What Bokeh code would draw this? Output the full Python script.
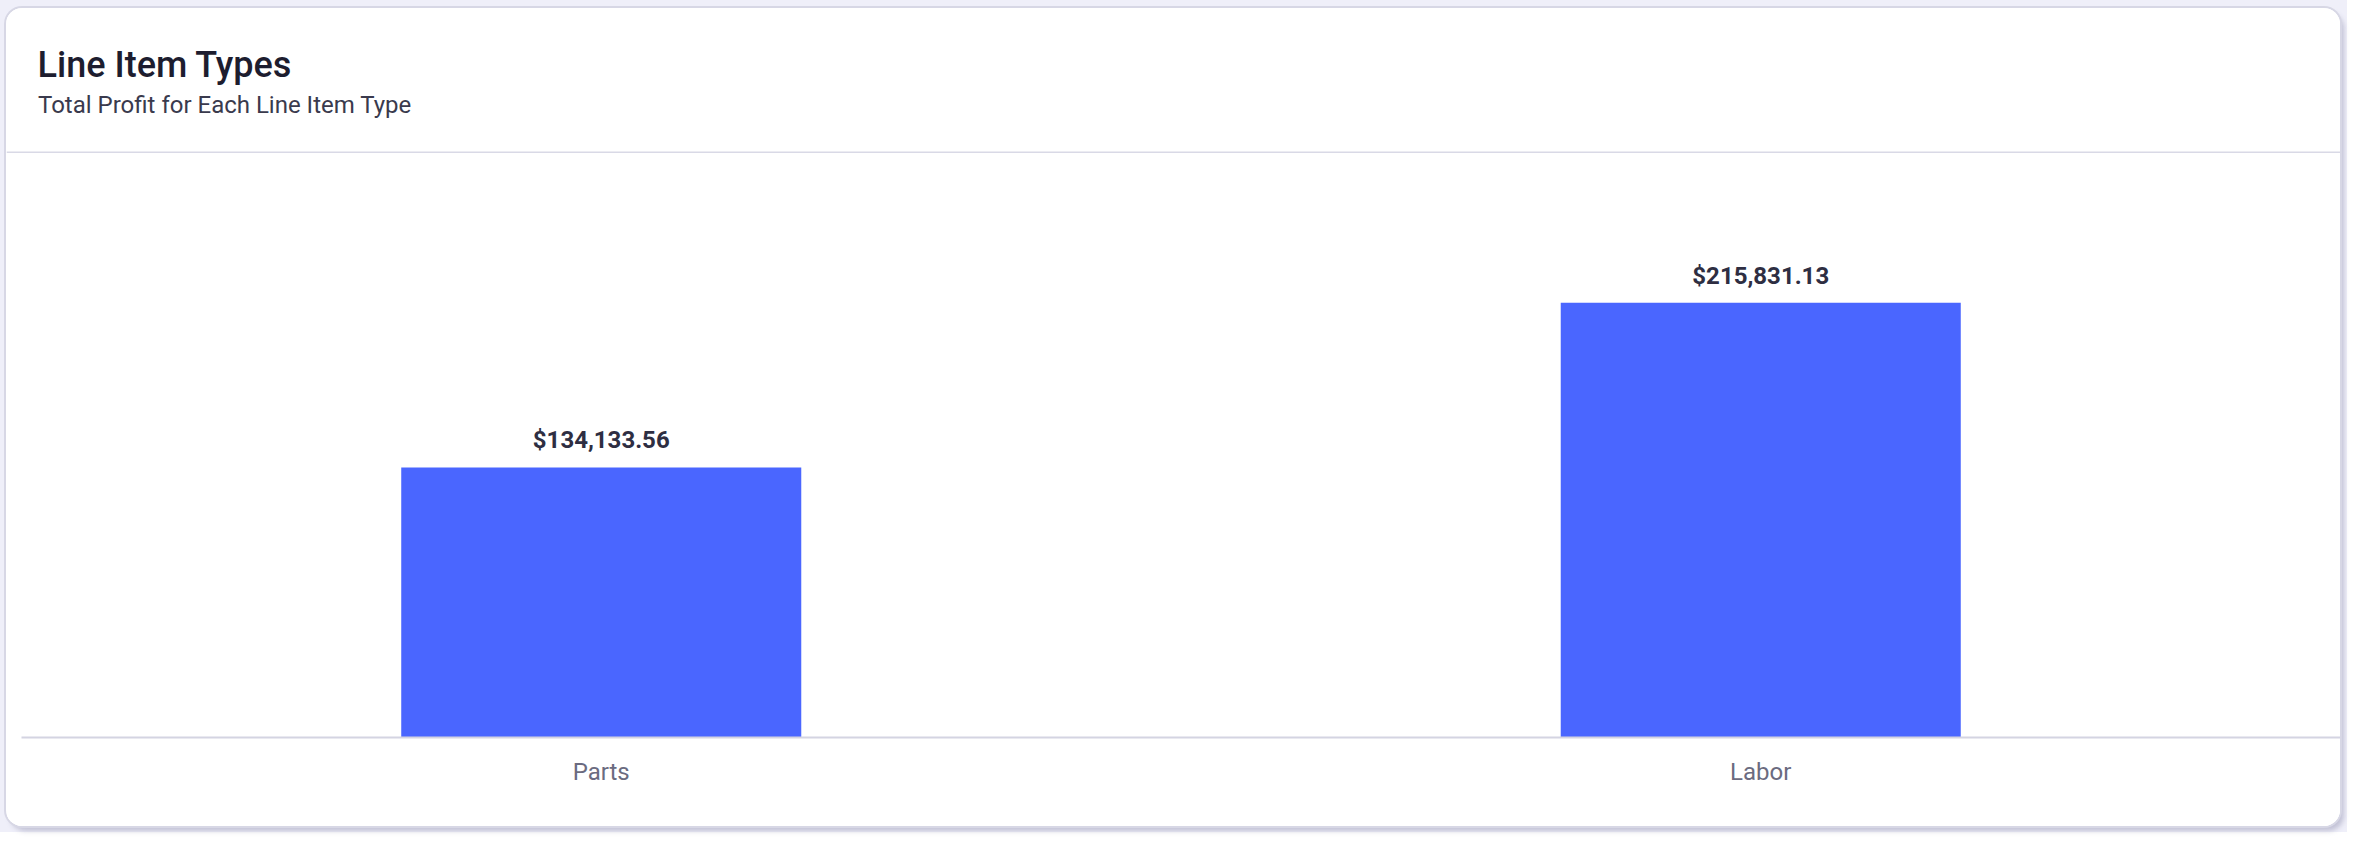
from bokeh.plotting import figure
from bokeh.models import ColumnDataSource, Label, Range1d
from bokeh.layouts import column
from bokeh.core.properties import value
from bokeh.embed import file_html
from bokeh.resources import INLINE

# ---- data ----
categories = ["Parts", "Labor"]
profit = [134133.56, 215831.13]
value_labels = [f"${v:,.2f}" for v in profit]
title_text = "Line Item Types"
subtitle_text = "Total Profit for Each Line Item Type"

source = ColumnDataSource(dict(cat=categories, profit=profit, label=value_labels))

CW = 2334          # card inner width
HH = 145           # header height (incl. divider)
CH = 673           # chart height

# ---- header (title, subtitle, divider) ----
header = figure(width=CW, height=HH, x_range=Range1d(0, CW), y_range=Range1d(0, HH),
                output_backend="svg", toolbar_location=None, title=None,
                x_axis_location=None, y_axis_location=None, min_border=0)
header.frame_align = False
header.outline_line_color = None
header.grid.visible = False
header.border_fill_color = "white"
header.background_fill_color = "white"
header.hspan(y=[1], line_color="#d9d9e6", line_width=2)
header.add_layout(Label(x=31, y=89, text=title_text, text_font="Roboto Medium",
                        text_font_size="36px", text_color="#1d1d2f",
                        text_baseline="alphabetic", text_align="left"))
header.add_layout(Label(x=31.5, y=49, text=subtitle_text, text_font="Roboto",
                        text_font_size="24px", text_color="#3a3a4d",
                        text_baseline="alphabetic", text_align="left"))

# ---- chart ----
p = figure(width=CW, height=CH, x_range=categories, y_range=Range1d(0, 289000),
           output_backend="svg", toolbar_location=None, title=None,
           y_axis_location=None, min_border_left=15, min_border_right=0,
           min_border_top=2, min_border_bottom=89)
p.frame_align = False
p.border_fill_color = "white"
p.background_fill_color = "white"
p.outline_line_color = None
p.xgrid.visible = False
p.ygrid.visible = False

p.vbar(x="cat", top="profit", width=0.345, source=source, fill_color="#4a66ff", line_color=None)
p.text(x="cat", y="profit", text="label", source=source, y_offset=-27,
       text_align="center", text_baseline="alphabetic", text_font=value("Roboto"),
       text_font_style="bold", text_font_size="24px", text_color="#2e2e42")

ax = p.xaxis[0]
ax.axis_line_color = "#d4d4e2"
ax.axis_line_width = 2
ax.major_tick_line_color = None
ax.minor_tick_line_color = None
ax.major_tick_out = 0
ax.major_tick_in = 0
ax.major_label_standoff = 20
ax.major_label_text_font = "Roboto"
ax.major_label_text_font_size = "24px"
ax.major_label_text_color = "#6b6b80"

card = column(header, p, spacing=0,
              styles={"background-color": "white", "border-radius": "16px",
                      "overflow": "hidden",
                      "box-shadow": "0 0 0 2px #d7d7e5, 4px 5px 5px rgba(140,140,170,0.45)"})
page = column(card, styles={"background-color": "#efeff9", "padding": "8px 7px 6px 6px"})

open("out.html", "w").write(file_html(page, INLINE))
